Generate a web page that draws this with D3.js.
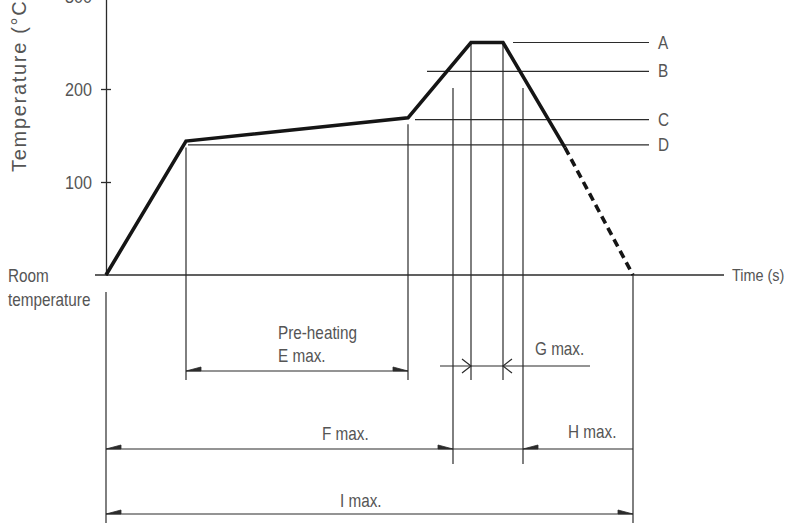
<!DOCTYPE html>
<html><head><meta charset="utf-8">
<script src="https://cdn.jsdelivr.net/npm/d3@7"></script>
<style>
html,body{margin:0;padding:0;background:#fff;}
svg{display:block;}
.lbl{font-family:"Liberation Sans",Arial,sans-serif;fill:#555;}
</style></head>
<body>
<svg id="c" width="786" height="523"></svg>
<script>
// ---- data (schematic reflow profile) ----
const profileTime = [0, 40, 151, 182.5, 198.5, 229.5];   // solid part
const profileTemp = [0, 144, 169, 250, 250, 137];
const coolTime = [229.5, 263.5];                         // dashed cooling part
const coolTemp = [137, 0];
const yTicks = [100, 200, 300];
const refNames = ["A", "B", "C", "D"];
const refTemps = [250, 219, 167, 140];
const refStart = [203.5, 160.5, 154.5, 41];
const refEnd = 271.5;
const markTime = [40, 151, 173.5, 182.5, 198.5, 208.5];
const markTopTemp = [137, 162, 201, 250, 250, 201];

const svg = d3.select("#c");
const x = d3.scaleLinear().domain([0, 310]).range([106, 726]);
const y = d3.scaleLinear().domain([0, 300]).range([275, -4]);
const ink = "#2b2b2b";
const SX = 0.85; // condensed look

function txt(s, xx, yy, size, anchor) {
  return svg.append("text").attr("class", "lbl")
    .attr("transform", `translate(${xx},${yy}) scale(${SX},1)`)
    .attr("text-anchor", anchor || "start")
    .style("font-size", (size || 18) + "px").text(s);
}

// axes
svg.append("line").attr("x1", x(-5.5)).attr("x2", x(309)).attr("y1", y(0)).attr("y2", y(0))
  .attr("stroke", ink).attr("stroke-width", 1.3);
const yAxis = svg.append("g").attr("transform", `translate(${x(0)},0)`)
  .call(d3.axisLeft(y).tickValues(yTicks).tickSize(5).tickFormat("").tickSizeOuter(0));
yAxis.select(".domain").attr("stroke", ink).attr("stroke-width", 1.3);
yAxis.selectAll(".tick line").attr("x2", 5).attr("x1", -5).attr("stroke", ink).attr("stroke-width", 1.3);
yTicks.forEach(v => txt(String(v), 92, y(v) + 7, 19, "end"));

svg.append("text").attr("class", "lbl")
  .attr("transform", `translate(26,${172}) rotate(-90)`)
  .style("font-size", "20px")
  .style("letter-spacing", "1.7px").text("Temperature (°C)");

txt("Room", 8, 282, 18);
txt("temperature", 8, 306, 18);
txt("Time (s)", 732, 281, 17);

// reference lines
refNames.forEach((n, i) => {
  svg.append("line").attr("x1", x(refStart[i])).attr("x2", x(refEnd))
    .attr("y1", y(refTemps[i])).attr("y2", y(refTemps[i])).attr("stroke", ink).attr("stroke-width", 1.2);
  txt(n, 658, y(refTemps[i]) + 6, 18);
});

// vertical guide lines
const rowE = 371, rowG = 366, rowF = 449, rowI = 514;
const markBottom = [380, 380, 464, 380, 380, 464];
markTime.forEach((t, i) => {
  svg.append("line").attr("x1", x(t)).attr("x2", x(t))
    .attr("y1", y(markTopTemp[i])).attr("y2", markBottom[i]).attr("stroke", ink).attr("stroke-width", 1.2);
});
svg.append("line").attr("x1", x(coolTime[1])).attr("x2", x(coolTime[1])).attr("y1", y(0)).attr("y2", 523)
  .attr("stroke", ink).attr("stroke-width", 1.2);
svg.append("line").attr("x1", x(0)).attr("x2", x(0)).attr("y1", 292).attr("y2", 523)
  .attr("stroke", ink).attr("stroke-width", 1.2);

// profile
const line = d3.line().x(d => x(d[0])).y(d => y(d[1]));
svg.append("path").datum(d3.zip(profileTime, profileTemp)).attr("d", line)
  .attr("fill", "none").attr("stroke", "#151515").attr("stroke-width", 3.6).attr("stroke-linejoin", "miter");
svg.append("path").datum(d3.zip(coolTime, coolTemp)).attr("d", line)
  .attr("fill", "none").attr("stroke", "#151515").attr("stroke-width", 3.6).attr("stroke-dasharray", "8,5");

// dimension lines
function hline(t0, t1, yy) {
  svg.append("line").attr("x1", x(t0)).attr("x2", x(t1)).attr("y1", yy).attr("y2", yy)
    .attr("stroke", ink).attr("stroke-width", 1.2);
}
function halfArrow(t, yy, dir) {
  const px = x(t);
  const p = d3.path();
  p.moveTo(px, yy); p.lineTo(px - dir * 15, yy - 4); p.lineTo(px - dir * 15, yy); p.closePath();
  svg.append("path").attr("d", p.toString()).attr("fill", ink).attr("stroke", ink).attr("stroke-width", 0.8);
}
function chevron(t, yy, dir) {
  const px = x(t);
  const p = d3.path();
  p.moveTo(px - dir * 9, yy - 7); p.lineTo(px, yy); p.lineTo(px - dir * 9, yy + 7);
  svg.append("path").attr("d", p.toString()).attr("fill", "none").attr("stroke", ink).attr("stroke-width", 1.2);
}
hline(markTime[0], markTime[1], rowE);
halfArrow(markTime[0], rowE, -1); halfArrow(markTime[1], rowE, 1);
hline(167, 242, rowG);
chevron(markTime[3], rowG, 1); chevron(markTime[4], rowG, -1);
hline(0, coolTime[1], rowF);
halfArrow(0, rowF, -1); halfArrow(markTime[2], rowF, 1); halfArrow(markTime[5], rowF, -1);
hline(0, coolTime[1], rowI);
halfArrow(0, rowI, -1); halfArrow(coolTime[1], rowI, 1);

txt("Pre-heating", 278, 339);
txt("E max.", 278, 362);
txt("G max.", 535, 355);
txt("F max.", 322, 440);
txt("H max.", 568, 438);
txt("I max.", 340, 507);
</script>
</body></html>
